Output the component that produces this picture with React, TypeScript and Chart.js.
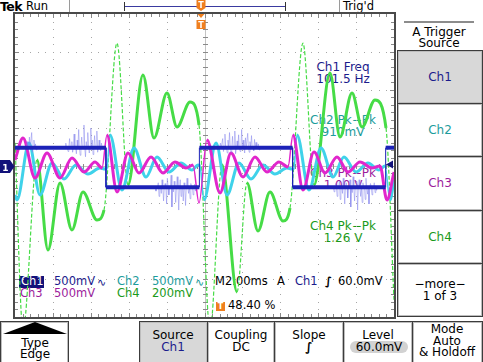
import React, { useEffect, useRef } from "react";
import { Chart, registerables } from "chart.js";

Chart.register(...registerables);

const W = 483;
const H = 362;
const FONT = "'DejaVu Sans', Verdana, sans-serif";

// Scope settings: 10 horizontal divisions x 2 ms, 8 vertical divisions
const timeMinMs = 0;
const timeMaxMs = 20;
const divMin = -4;
const divMax = 4;
const ch1VoltsPerDiv = 0.5;
const ch2VoltsPerDiv = 0.5;
const ch3VoltsPerDiv = 0.5;
const ch4VoltsPerDiv = 0.2;

// Ch1 – square wave (101.5 Hz)
const ch1Time = [0, 4.8, 4.8, 9.73, 9.73, 14.65, 14.65, 19.56, 19.56, 20];
const ch1Volts = [0.235, 0.235, -0.288, -0.288, 0.235, 0.235, -0.288, -0.288, 0.235, 0.235];

// Ch1 noise bursts (start time, level, deviations every 0.04 ms)
const noiseStart = [0.6, 2.6, 7.4, 10.8, 16.8];
const noiseLevel = [0.235, 0.235, -0.288, 0.235, -0.288];
const noiseStepMs = 0.04;
const noiseDevA = [0, 0.08, 0, -0.04, 0.14, 0, 0, 0.2, -0.06, 0, 0.1, 0, 0.05, -0.03, 0, 0];
const noiseDevB = [0, 0, 0.06, 0, 0, -0.05, 0, 0.12, 0, 0, 0.08, -0.06, 0, 0.18, 0, 0, -0.08, 0.1, 0, 0.24, 0, -0.1, 0, 0.14, 0, 0, 0.3, 0, -0.12, 0.08, 0, 0.2, 0, -0.07, 0, 0.26, 0, 0.1, -0.09, 0, 0.16, 0, 0, 0.22, -0.06, 0, 0.1, 0, -0.04, 0.06, 0];
const noiseDevC = [0, -0.05, 0, 0, 0.06, -0.12, 0, 0, -0.08, 0.1, 0, -0.18, 0, 0.05, 0, -0.22, 0.12, 0, -0.1, 0, 0, 0.16, -0.26, 0, -0.06, 0.08, 0, -0.2, 0, 0.14, 0, -0.3, 0, 0.1, -0.12, 0, 0, -0.18, 0.06, 0, -0.24, 0, 0.12, 0, -0.08, 0, -0.15, 0.05, 0, 0, -0.1, 0, 0.04, -0.05, 0, 0];
const noiseDevD = [0, 0.06, 0, 0, 0.12, -0.05, 0, 0.18, 0, 0, -0.07, 0.1, 0, 0.2, 0, -0.06, 0, 0.15, 0, 0, 0.22, -0.08, 0, 0.09, 0, 0.17, 0, -0.05, 0, 0.24, 0, 0.1, 0, -0.07, 0.13, 0, 0, 0.19, 0, -0.06, 0.08, 0, 0.16, 0, 0, -0.04, 0.11, 0, 0.07, 0, 0, 0.05, -0.03, 0, 0];
const noiseDevE = [0, -0.06, 0, 0.05, 0, -0.12, 0, 0, 0.08, -0.16, 0, 0, -0.08, 0.12, 0, -0.22, 0, 0.06, 0, -0.14, 0, 0, 0.1, -0.26, 0, -0.07, 0.14, 0, -0.18, 0, 0, 0.08, -0.3, 0, 0.1, 0, -0.12, 0, -0.2, 0.06, 0, 0, -0.16, 0.12, 0, -0.09, 0, -0.22, 0, 0.05, 0, -0.1, 0, 0, 0.06, -0.07, 0, -0.04, 0, 0];
const noiseDevs = [noiseDevA, noiseDevB, noiseDevC, noiseDevD, noiseDevE];

// Ch2 – damped ringing
const ch2Time = [0, 0.106, 0.739, 1.319, 1.953, 2.586, 3.219, 3.852, 4.485, 4.749, 4.855, 5.013, 5.646, 6.28, 6.913, 7.493, 8.127, 8.76, 9.34, 9.657, 9.762, 9.973, 10.607, 11.187, 11.82, 12.454, 13.087, 13.72, 14.353, 14.617, 14.723, 14.881, 15.514, 16.148, 16.781, 17.361, 17.995, 18.628, 19.208, 19.525, 19.789, 20];
const ch2Volts = [-0.389, -0.455, 0.297, -0.389, 0.033, -0.178, 0.007, -0.112, -0.033, -0.046, -0.033, 0.402, -0.323, 0.231, -0.152, 0.112, -0.086, 0.033, -0.059, 0.007, -0.007, -0.455, 0.297, -0.389, 0.033, -0.178, 0.007, -0.112, -0.033, -0.046, -0.033, 0.402, -0.323, 0.231, -0.152, 0.112, -0.086, 0.033, -0.059, -0.007, -0.455, -0.191];

// Ch3 – damped ringing
const ch3Time = [0, 0.422, 1.055, 1.689, 2.375, 3.008, 3.641, 4.222, 4.591, 4.855, 5.383, 5.963, 6.543, 7.177, 7.81, 8.443, 9.024, 9.393, 9.71, 10.132, 10.818, 11.398, 12.032, 12.665, 13.298, 13.931, 14.406, 14.67, 15.198, 15.778, 16.359, 16.992, 17.572, 18.206, 18.839, 19.261, 19.63, 20];
const ch3Volts = [0.073, 0.363, -0.165, 0.165, -0.165, 0.099, -0.086, 0.046, -0.033, 0.402, -0.35, 0.165, -0.099, 0.112, -0.099, 0.046, -0.033, 0.007, -0.495, 0.336, -0.363, 0.165, -0.152, 0.112, -0.086, 0.046, -0.02, 0.402, -0.323, 0.178, -0.099, 0.112, -0.086, 0.046, -0.033, -0.007, -0.455, -0.086];

// Ch4 – large ringing
const ch4Time = [0, 0.422, 1.161, 1.741, 2.375, 3.008, 3.588, 4.327, 4.696, 5.383, 5.963, 6.754, 7.335, 8.021, 8.549, 9.235, 9.71, 10.29, 10.923, 11.715, 12.243, 12.823, 13.456, 14.142, 14.512, 15.198, 15.778, 16.623, 17.15, 17.784, 18.311, 18.997, 19.578, 20];
const ch4Volts = [0.12, -0.868, 0.029, -0.446, -0.092, -0.34, -0.14, -0.288, -0.235, 0.646, -0.103, 0.478, 0.145, 0.383, 0.203, 0.335, 0.214, -0.868, 0.003, -0.668, -0.092, -0.346, -0.14, -0.293, -0.224, 0.646, -0.103, 0.488, 0.15, 0.383, 0.203, 0.346, 0.198, -0.71];

const C1 = "#1c22b8";
const C2 = "#3fd2ea";
const C3 = "#e126cc";
const C4 = "#46dc46";
const T1 = "#1b1b8c";
const T2 = "#1c9c9c";
const T3 = "#9c1c9c";
const T4 = "#1a9a1a";
const ORANGE = "#f07f1e";

const toPoints = (t: number[], v: number[], vdiv: number) => t.map((x, i) => ({ x, y: v[i] / vdiv }));

const isSteep = (c: any, lim: number) => {
  const dx = Math.abs(c.p1.x - c.p0.x);
  const dy = Math.abs(c.p1.y - c.p0.y);
  return dy / Math.max(dx, 0.3) > lim;
};

const graticule = {
  id: "graticule",
  beforeDatasetsDraw(chart: any) {
    const { ctx, chartArea: a, scales } = chart;
    const xs = scales.x;
    const ys = scales.y;
    ctx.save();
    const cx = Math.round(xs.getPixelForValue(10));
    const cy = Math.round(ys.getPixelForValue(0));
    ctx.fillStyle = "#a6a6a6";
    for (let i = 1; i < 10; i++) {
      if (i === 5) continue;
      const px = Math.round(xs.getPixelForValue(i * 2));
      for (let j = 1; j < 40; j++) {
        const py = Math.round(ys.getPixelForValue(-4 + j * 0.2));
        ctx.fillRect(px, py, 1, 1);
      }
    }
    for (let j = 1; j < 8; j++) {
      if (j === 4) continue;
      const py = Math.round(ys.getPixelForValue(-4 + j));
      for (let i = 1; i < 50; i++) {
        const px = Math.round(xs.getPixelForValue(i * 0.4));
        ctx.fillRect(px, py, 1, 1);
      }
    }
    ctx.fillStyle = "#c4c4c4";
    ctx.fillRect(a.left, cy, a.width, 1);
    ctx.fillRect(cx, a.top, 1, a.height);
    ctx.fillStyle = "#8a8a8a";
    for (let i = 1; i < 50; i++) {
      const px = Math.round(xs.getPixelForValue(i * 0.4));
      ctx.fillRect(px, cy - 2, 1, 5);
      ctx.fillRect(px, a.top, 1, i % 5 === 0 ? 4 : 3);
      ctx.fillRect(px, a.bottom - (i % 5 === 0 ? 4 : 3), 1, i % 5 === 0 ? 4 : 3);
    }
    for (let j = 1; j < 40; j++) {
      const py = Math.round(ys.getPixelForValue(-4 + j * 0.2));
      ctx.fillRect(cx - 2, py, 5, 1);
      ctx.fillRect(a.left, py, j % 5 === 0 ? 4 : 3, 1);
      ctx.fillRect(a.right - (j % 5 === 0 ? 4 : 3), py, j % 5 === 0 ? 4 : 3, 1);
    }
    ctx.restore();
  },
  afterDatasetsDraw(chart: any) {
    const { ctx, chartArea: a } = chart;
    ctx.save();
    ctx.strokeStyle = "#4a4a4a";
    ctx.lineWidth = 2;
    ctx.strokeRect(a.left - 1, a.top - 1, a.width + 2, a.height + 2);
    ctx.restore();
  },
};

function Txt(props: any) {
  const { x, y, c = "#000", s = 11, b = false, a = "c", bg, children, ls } = props;
  return (
    <div
      style={{
        position: "absolute",
        left: x,
        top: y,
        color: c,
        fontSize: s,
        fontWeight: b ? 700 : 400,
        lineHeight: 1,
        whiteSpace: "nowrap",
        letterSpacing: ls ?? 0,
        background: bg,
        transform: a === "c" ? "translate(-50%,-50%)" : "translate(0,-50%)",
      }}
    >
      {children}
    </div>
  );
}

function Box(props: any) {
  const { x, y, w, h, fill = "#fff" } = props;
  return (
    <div
      style={{
        position: "absolute",
        left: x,
        top: y,
        width: w,
        height: h,
        boxSizing: "border-box",
        border: "1px solid #3c3c3c",
        boxShadow: "inset 0 0 0 1px #bdbdbd",
        background: fill,
      }}
    />
  );
}

export default function App() {
  const ref = useRef<HTMLCanvasElement>(null);

  useEffect(() => {
    const noisePts: any[] = [];
    noiseDevs.forEach((dev, z) => {
      dev.forEach((d, k) => noisePts.push({ x: noiseStart[z] + k * noiseStepMs, y: (noiseLevel[z] + d) / ch1VoltsPerDiv }));
      noisePts.push({ x: noiseStart[z] + dev.length * noiseStepMs, y: null });
    });

    const chart = new Chart(ref.current as HTMLCanvasElement, {
      type: "line",
      data: {
        datasets: [
          {
            label: "Ch1",
            data: toPoints(ch1Time, ch1Volts, ch1VoltsPerDiv),
            borderColor: C1,
            borderWidth: 4,
            pointRadius: 0,
            tension: 0,
            segment: { borderWidth: (c: any) => (Math.abs(c.p1.x - c.p0.x) < 0.5 ? 1 : 4) },
          } as any,
          {
            label: "Ch1 noise",
            data: noisePts,
            borderColor: "rgba(132,132,238,0.5)",
            borderWidth: 1,
            pointRadius: 0,
            tension: 0,
            spanGaps: false,
          },
          {
            label: "Ch3",
            data: toPoints(ch3Time, ch3Volts, ch3VoltsPerDiv),
            borderColor: C3,
            borderWidth: 3,
            pointRadius: 0,
            cubicInterpolationMode: "monotone",
            segment: { borderWidth: (c: any) => (isSteep(c, 6) ? 1.5 : 3) },
          } as any,
          {
            label: "Ch2",
            data: toPoints(ch2Time, ch2Volts, ch2VoltsPerDiv),
            borderColor: C2,
            borderWidth: 3,
            pointRadius: 0,
            cubicInterpolationMode: "monotone",
            segment: { borderWidth: (c: any) => (isSteep(c, 6) ? 1.5 : 3) },
          } as any,
          {
            label: "Ch4",
            data: toPoints(ch4Time, ch4Volts, ch4VoltsPerDiv),
            borderColor: C4,
            borderWidth: 3,
            pointRadius: 0,
            cubicInterpolationMode: "monotone",
            segment: {
              borderWidth: (c: any) => (isSteep(c, 9) ? 1.2 : 3),
              borderDash: (c: any) => (isSteep(c, 9) ? [4, 2] : undefined),
            },
          } as any,
        ],
      },
      options: {
        responsive: false,
        maintainAspectRatio: false,
        devicePixelRatio: 1,
        animation: false,
        events: [],
        layout: { padding: { left: 15, top: 14, right: 89, bottom: 45 } },
        plugins: { legend: { display: false }, tooltip: { enabled: false }, title: { display: false } },
        scales: {
          x: { type: "linear", min: timeMinMs, max: timeMaxMs, display: false },
          y: { type: "linear", min: divMin, max: divMax, display: false },
        },
      },
      plugins: [graticule],
    });
    return () => chart.destroy();
  }, []);

  const rowY1 = 282;
  const rowY2 = 294;

  return (
    <div style={{ position: "fixed", left: 0, top: 0, width: W, height: H, background: "#fff", overflow: "hidden", fontFamily: FONT }}>
      {/* top status bar */}
      <Txt x={0} y={7} a="l" s={12.5} b ls={-0.6}>Tek</Txt>
      <Txt x={26} y={7} a="l" s={11.5}>Run</Txt>
      <div style={{ position: "absolute", left: 69, top: 0, width: 1, height: 12, background: "#9a9a9a" }} />
      <div style={{ position: "absolute", left: 339, top: 0, width: 1, height: 12, background: "#9a9a9a" }} />
      <Txt x={343} y={7} a="l" s={11.5}>Trig'd</Txt>
      <svg width={W} height={14} style={{ position: "absolute", left: 0, top: 0 }}>
        <path d="M124.5 6.5 H285.5" stroke="#3a3aa0" strokeWidth={1} fill="none" />
        <path d="M124.5 2 V11 M285.5 2 V11" stroke="#333" strokeWidth={1} fill="none" />
      </svg>

      {/* measurements */}
      <Txt x={343} y={67} c={T1} s={12}>Ch1 Freq</Txt>
      <Txt x={343} y={79} c={T1} s={12}>101.5 Hz</Txt>
      <Txt x={343} y={120} c={T2} s={12}>Ch2 Pk−Pk</Txt>
      <Txt x={343} y={132} c={T2} s={12}>910mV</Txt>
      <Txt x={343} y={173} c={T3} s={12}>Ch3 Pk−Pk</Txt>
      <Txt x={343} y={185} c={T3} s={12}>1.00 V</Txt>
      <Txt x={343} y={226} c={T4} s={12}>Ch4 Pk−Pk</Txt>
      <Txt x={343} y={238} c={T4} s={12}>1.26 V</Txt>

      {/* channel readouts */}
      <div style={{ position: "absolute", left: 19, top: 276, width: 25, height: 12, background: "#12127a" }} />
      <Txt x={21} y={rowY1} a="l" c="#fff" s={11.5}>Ch1</Txt>
      <Txt x={54} y={rowY1} a="l" c={T1} s={11.5}>500mV</Txt>
      <Txt x={97} y={rowY1} a="l" c={T1} s={11}>∿</Txt>
      <Txt x={117} y={rowY1} a="l" c={T2} s={11.5}>Ch2</Txt>
      <Txt x={152} y={rowY1} a="l" c={T2} s={11.5}>500mV</Txt>
      <Txt x={195} y={rowY1} a="l" c={T2} s={11}>∿</Txt>
      <Txt x={215} y={rowY1} a="l" s={11.5}>M2.00ms</Txt>
      <Txt x={277} y={rowY1} a="l" s={11.5}>A</Txt>
      <Txt x={295} y={rowY1} a="l" c={T1} s={11.5}>Ch1</Txt>
      <Txt x={325} y={rowY1} a="l" s={11.5} b>∫</Txt>
      <Txt x={338} y={rowY1} a="l" s={11.5}>60.0mV</Txt>
      <Txt x={20} y={rowY2} a="l" c={T3} s={11.5}>Ch3</Txt>
      <Txt x={54} y={rowY2} a="l" c={T3} s={11.5}>500mV</Txt>
      <Txt x={117} y={rowY2} a="l" c={T4} s={11.5}>Ch4</Txt>
      <Txt x={152} y={rowY2} a="l" c={T4} s={11.5}>200mV</Txt>
      <div style={{ position: "absolute", left: 216, top: 302, width: 9, height: 9, background: ORANGE }} />
      <Txt x={220.5} y={306.5} c="#fff" s={8} b>T</Txt>
      <Txt x={228} y={306} a="l" s={11.5}>48.40 %</Txt>

      {/* right-side menu */}
      <div style={{ position: "absolute", left: 404, top: 21, width: 70, height: 2, background: "#8c8c8c" }} />
      <Txt x={439} y={32} s={12}>A Trigger</Txt>
      <Txt x={439} y={43} s={12}>Source</Txt>
      <Box x={397} y={50} w={86} h={54} fill="#d8d8d8" />
      <Box x={397} y={103} w={86} h={54} />
      <Box x={397} y={156} w={86} h={55} />
      <Box x={397} y={210} w={86} h={54} />
      <Box x={397} y={263} w={86} h={54} />
      <Txt x={440} y={77} c={T1} s={12}>Ch1</Txt>
      <Txt x={440} y={130} c={T2} s={12}>Ch2</Txt>
      <Txt x={440} y={183} c={T3} s={12}>Ch3</Txt>
      <Txt x={440} y={237} c={T4} s={12}>Ch4</Txt>
      <Txt x={440} y={284} s={12}>−more−</Txt>
      <Txt x={440} y={296} s={12}>1 of 3</Txt>

      {/* bottom menu */}
      <Box x={0} y={321} w={69} h={45} />
      <svg width={70} height={16} style={{ position: "absolute", left: 0, top: 320 }}>
        <polygon points="3,14 35,2 67,14" fill="#000" />
      </svg>
      <Txt x={35} y={343} s={12}>Type</Txt>
      <Txt x={35} y={354} s={12}>Edge</Txt>
      <Box x={139} y={321} w={69} h={45} fill="#d8d8d8" />
      <Txt x={173} y={335} s={12}>Source</Txt>
      <Txt x={173} y={347} c={T1} s={12}>Ch1</Txt>
      <Box x={207} y={321} w={68} h={45} />
      <Txt x={241} y={335} s={12}>Coupling</Txt>
      <Txt x={241} y={347} s={12}>DC</Txt>
      <Box x={274} y={321} w={70} h={45} />
      <Txt x={309} y={335} s={12}>Slope</Txt>
      <Txt x={309} y={347} s={12} b>∫</Txt>
      <Box x={343} y={321} w={70} h={45} />
      <Txt x={378} y={335} s={12}>Level</Txt>
      <div style={{ position: "absolute", left: 350, top: 341, width: 58, height: 12, borderRadius: 6, background: "#d2d2d2" }} />
      <Txt x={379} y={347} s={12}>60.0mV</Txt>
      <Box x={412} y={321} w={71} h={45} />
      <Txt x={447} y={329} s={12}>Mode</Txt>
      <Txt x={447} y={341} s={12}>Auto</Txt>
      <Txt x={447} y={352} s={12}>&amp; Holdoff</Txt>

      <canvas ref={ref} width={W} height={H} style={{ position: "absolute", left: 0, top: 0, width: W, height: H }} />

      {/* markers drawn over the screen */}
      <svg width={W} height={H} style={{ position: "absolute", left: 0, top: 0 }}>
        <polygon points="0,160 10,160 14.5,166.5 10,173 0,173" fill="#12127a" />
        <text x={5.5} y={170.5} fill="#fff" fontSize={9} fontWeight={700} textAnchor="middle" fontFamily={FONT}>1</text>
        <polygon points="386,164.5 393,160.5 393,168.5" fill="#12127a" />
        <path d="M196.5 0 H205.5 V8 L201 11 L196.5 8 Z" fill={ORANGE} />
        <text x={201} y={8} fill="#fff" fontSize={8} fontWeight={700} textAnchor="middle" fontFamily={FONT}>T</text>
        <polygon points="197.5,14 204.5,14 201,18" fill={ORANGE} />
        <rect x={196.5} y={20} width={9} height={9} fill={ORANGE} />
        <text x={201} y={28} fill="#fff" fontSize={8} fontWeight={700} textAnchor="middle" fontFamily={FONT}>T</text>
      </svg>
    </div>
  );
}
